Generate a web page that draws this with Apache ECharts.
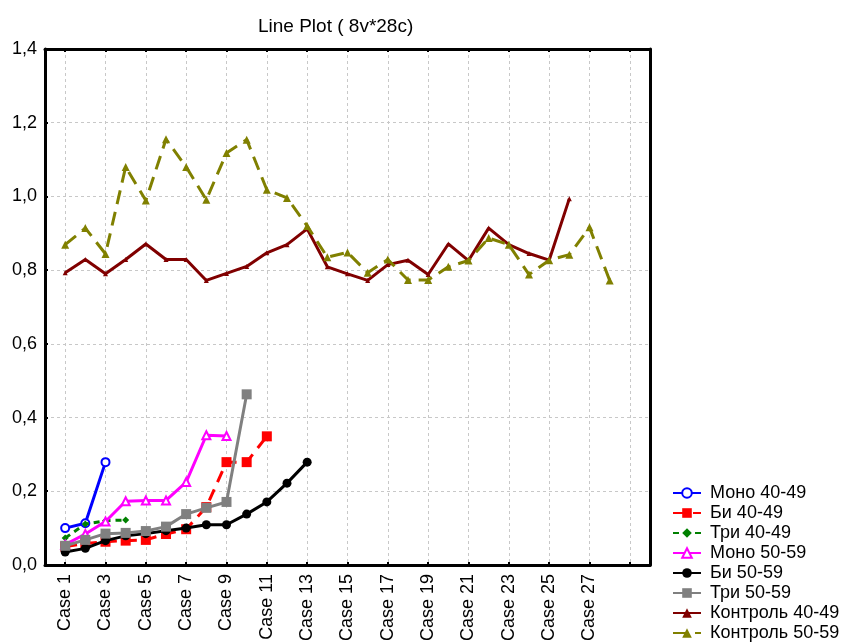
<!DOCTYPE html>
<html>
<head>
<meta charset="utf-8">
<script src="https://cdn.jsdelivr.net/npm/echarts@6/dist/echarts.min.js"></script>
<style>
html,body{margin:0;padding:0;background:#fff;}
#chart{width:849px;height:644px;}
</style>
</head>
<body>
<div id="chart"></div>
<script>
var caseLabels = ['', 'Case 1', 'Case 2', 'Case 3', 'Case 4', 'Case 5', 'Case 6', 'Case 7', 'Case 8', 'Case 9', 'Case 10',
  'Case 11', 'Case 12', 'Case 13', 'Case 14', 'Case 15', 'Case 16', 'Case 17', 'Case 18', 'Case 19', 'Case 20',
  'Case 21', 'Case 22', 'Case 23', 'Case 24', 'Case 25', 'Case 26', 'Case 27', 'Case 28', ' ', '  '];
var yTicks = [0, 0.2, 0.4, 0.6, 0.8, 1.0, 1.2, 1.4];
var seriesNames = ['Моно 40-49', 'Би 40-49', 'Три 40-49', 'Моно 50-59', 'Би 50-59', 'Три 50-59', 'Контроль 40-49', 'Контроль 50-59'];

var mono4049 = [0.100, 0.113, 0.279];
var bi4049 = [0.050, 0.058, 0.063, 0.066, 0.068, 0.084, 0.097, 0.157, 0.279, 0.279, 0.349];
var tri4049 = [0.073, 0.111, 0.120, 0.122];
var mono5059 = [0.055, 0.084, 0.118, 0.173, 0.175, 0.175, 0.225, 0.352, 0.350];
var bi5059 = [0.035, 0.045, 0.066, 0.079, 0.085, 0.093, 0.100, 0.109, 0.109, 0.138, 0.171, 0.222, 0.279];
var tri5059 = [0.052, 0.068, 0.085, 0.087, 0.092, 0.104, 0.138, 0.155, 0.171, 0.463];
var kontrol4049 = [0.793, 0.829, 0.790, 0.829, 0.871, 0.829, 0.829, 0.772, 0.791, 0.810, 0.847, 0.869, 0.912,
  0.809, 0.790, 0.772, 0.815, 0.827, 0.788, 0.871, 0.826, 0.914, 0.869, 0.845, 0.827, 0.994];
var kontrol5059 = [0.869, 0.914, 0.844, 1.080, 0.989, 1.155, 1.080, 0.991, 1.118, 1.154, 1.018, 0.996, 0.920,
  0.835, 0.848, 0.793, 0.829, 0.773, 0.773, 0.809, 0.826, 0.887, 0.869, 0.788, 0.827, 0.842, 0.916, 0.772];

function toData(vals) { return vals.map(function (v, i) { return [i + 1, v]; }); }
function oddIdx(i) { return i % 2 === 1; }

var FONT = '"Liberation Sans", Arial, sans-serif';

var styles = [
  { color: '#0000ff', symbol: 'emptyCircle', symbolSize: 8, lineType: 'solid', data: mono4049 },
  { color: '#ff0000', symbol: 'rect', symbolSize: 10, lineType: [12, 8], data: bi4049 },
  { color: '#008000', symbol: 'diamond', symbolSize: 7, lineType: [6, 5], data: tri4049 },
  { color: '#ff00ff', symbol: 'emptyTriangle', symbolSize: 8, lineType: 'solid', data: mono5059 },
  { color: '#000000', symbol: 'circle', symbolSize: 9, lineType: 'solid', data: bi5059 },
  { color: '#808080', symbol: 'rect', symbolSize: 10, lineType: 'solid', data: tri5059 },
  { color: '#800000', symbol: 'triangle', symbolSize: 5, lineType: 'solid', data: kontrol4049 },
  { color: '#808000', symbol: 'triangle', symbolSize: 8, lineType: [14, 8], data: kontrol5059 }
];

var series = styles.map(function (s, k) {
  return {
    name: seriesNames[k],
    type: 'line',
    xAxisIndex: 0,
    yAxisIndex: 0,
    data: toData(s.data),
    symbol: s.symbol,
    symbolSize: s.symbolSize,
    showAllSymbol: true,
    animation: false,
    itemStyle: { color: s.color, borderColor: s.color, borderWidth: s.symbol.indexOf('empty') === 0 ? 2 : 0 },
    lineStyle: { color: s.color, width: 3, type: s.lineType },
    emphasis: { disabled: true },
    z: 2 + k
  };
});

var chart = echarts.init(document.getElementById('chart'), null, { renderer: 'canvas' });
chart.setOption({
  backgroundColor: '#ffffff',
  animation: false,
  title: {
    text: 'Line Plot ( 8v*28c)',
    left: 253, top: 12,
    textStyle: { fontFamily: FONT, fontSize: 19, fontWeight: 'normal', color: '#000' }
  },
  legend: {
    orient: 'vertical',
    left: 672, top: 484,
    padding: 0,
    itemWidth: 28, itemHeight: 12, itemGap: 2,
    data: seriesNames,
    textStyle: { fontFamily: FONT, fontSize: 18, color: '#000', padding: [0, 0, 0, 4] },
    selectedMode: false
  },
  grid: { left: 45, top: 49, right: 199, bottom: 78, containLabel: false },
  xAxis: [{
    type: 'category',
    data: caseLabels,
    boundaryGap: false,
    position: 'bottom',
    axisLine: { show: true, onZero: false, lineStyle: { color: '#000', width: 3 } },
    axisTick: { show: true, inside: true, length: 3, interval: oddIdx, lineStyle: { color: '#000', width: 2 } },
    axisLabel: { show: true, rotate: 90, interval: oddIdx, margin: 9, fontFamily: FONT, fontSize: 18, color: '#000' },
    splitLine: { show: true, interval: oddIdx, lineStyle: { color: '#c8c8c8', width: 1, type: [3, 3] } }
  }, {
    type: 'category',
    data: caseLabels,
    boundaryGap: false,
    position: 'top',
    axisLine: { show: true, onZero: false, lineStyle: { color: '#000', width: 3 } },
    axisTick: { show: true, inside: true, length: 3, interval: oddIdx, lineStyle: { color: '#000', width: 2 } },
    axisLabel: { show: false },
    splitLine: { show: false }
  }],
  yAxis: [{
    type: 'value',
    min: yTicks[0], max: yTicks[yTicks.length - 1], interval: 0.2,
    position: 'left',
    axisLine: { show: true, onZero: false, lineStyle: { color: '#000', width: 3 } },
    axisTick: { show: true, inside: true, length: 3, lineStyle: { color: '#000', width: 2 } },
    axisLabel: {
      margin: 8, fontFamily: FONT, fontSize: 18, color: '#000',
      formatter: function (v) { return v.toFixed(1).replace('.', ','); }
    },
    splitLine: { show: true, lineStyle: { color: '#c8c8c8', width: 1, type: [3, 3] } }
  }, {
    type: 'value',
    min: yTicks[0], max: yTicks[yTicks.length - 1], interval: 0.2,
    position: 'right',
    axisLine: { show: true, onZero: false, lineStyle: { color: '#000', width: 3 } },
    axisTick: { show: false },
    axisLabel: { show: false },
    splitLine: { show: false }
  }],
  series: series
});
</script>
</body>
</html>
